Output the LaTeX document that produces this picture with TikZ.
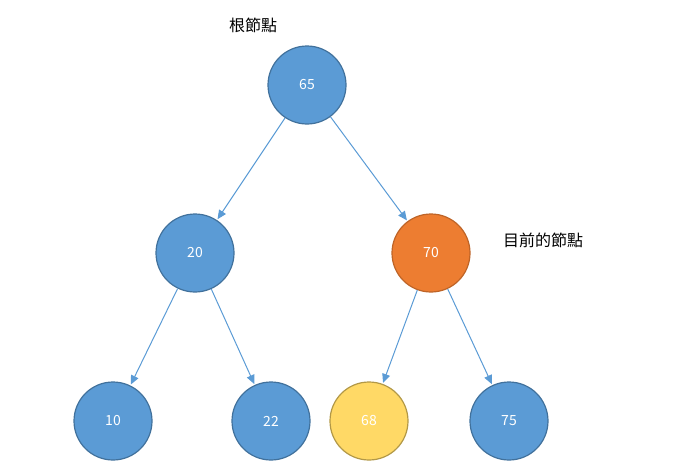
\documentclass[tikz,border=0pt]{standalone}
\usepackage{fontspec}
\setmainfont{Noto Sans CJK TC}
\usetikzlibrary{arrows.meta}
\definecolor{nblue}{HTML}{5B9BD5}
\definecolor{nedge}{HTML}{41719C}
\definecolor{norange}{HTML}{ED7D31}
\definecolor{nyellow}{HTML}{FFD966}
\begin{document}
\begin{tikzpicture}[x=1pt,y=-1pt,
  nd/.style={circle,minimum size=78pt,inner sep=0pt,fill=nblue,draw=nedge,line width=1.2pt,text=white,font=\fontsize{14}{16}\selectfont},
  ar/.style={-{Triangle[length=9pt,width=8pt]},draw=nblue,line width=1pt,shorten >=1pt},
  lb/.style={font=\fontsize{16}{18}\selectfont,text=black}]
\useasboundingbox (0,0) rectangle (679,463);
\node[nd] (n65) at (307,85) {65};
\node[nd] (n20) at (195,253) {20};
\node[nd,fill=norange,draw=norange!80!black] (n70) at (431,253) {70};
\node[nd] (n10) at (113,421) {10};
\node[nd] (n22) at (271,421) {22};
\node[nd,fill=nyellow,draw=nyellow!70!black] (n68) at (369,421) {68};
\node[nd] (n75) at (509,421) {75};
\draw[ar] (n65) -- (n20);
\draw[ar] (n65) -- (n70);
\draw[ar] (n20) -- (n10);
\draw[ar] (n20) -- (n22);
\draw[ar] (n70) -- (n68);
\draw[ar] (n70) -- (n75);
\node[lb] (root) at (253,25) {根節點};
\node[lb] (cur) at (543,240) {目前的節點};
\end{tikzpicture}
\end{document}
